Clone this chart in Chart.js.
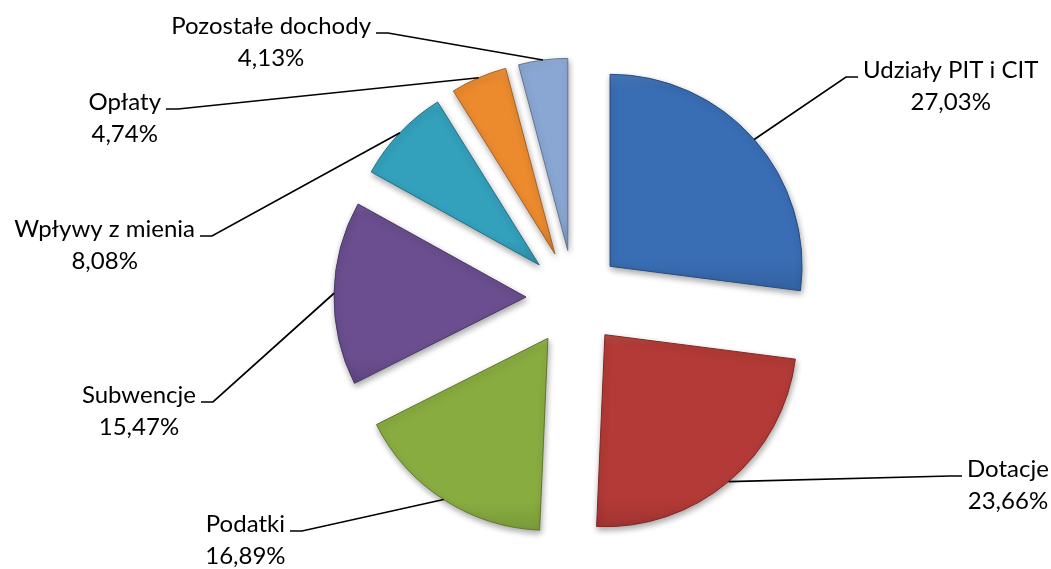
<!DOCTYPE html>
<html>
<head>
<meta charset="utf-8">
<script src="https://cdn.jsdelivr.net/npm/chart.js@4.4.1/dist/chart.umd.min.js"></script>
<style>
  html, body { margin: 0; padding: 0; background: #ffffff; }
  canvas { display: block; }
</style>
</head>
<body>
<canvas id="c" width="1051" height="569"></canvas>
<script>
// ---- data ----
const categories = ['Udziały PIT i CIT', 'Dotacje', 'Podatki', 'Subwencje', 'Wpływy z mienia', 'Opłaty', 'Pozostałe dochody'];
const shares = [27.03, 23.66, 16.89, 15.47, 8.08, 4.74, 4.13];
const sliceColors = ['#396db4', '#b33a36', '#88ac40', '#6a4e8f', '#33a0bc', '#ec8a2e', '#8aa7d4'];

// ---- layout / style ----
const PIE_RADIUS = 192;
const EXPLODE = 48;
const FONT_SIZE = 24;
const FONT_FAMILY = 'Lato, "Noto Sans", sans-serif';
const LINE_GAP = 32;
const TICK = 12;
const TEXT_GAP = 5;
// label elbow points, relative to the pie centre
const labelElbows = [[272, -221], [376, 178], [-272, 233], [-361, 104], [-362, -62], [-396, -189], [-186, -265]];

function fmtPct(v) { return v.toFixed(2).replace('.', ',') + '%'; }

function shade(hex, amt) {
  const n = parseInt(hex.slice(1), 16);
  let r = n >> 16, g = (n >> 8) & 255, b = n & 255;
  const t = amt < 0 ? 0 : 255, p = Math.abs(amt);
  r = Math.round(r + (t - r) * p); g = Math.round(g + (t - g) * p); b = Math.round(b + (t - b) * p);
  return 'rgb(' + r + ',' + g + ',' + b + ')';
}

function sliceGeom(chart, i) {
  const a = chart.chartArea;
  const cx = (a.left + a.right) / 2, cy = (a.top + a.bottom) / 2;
  const total = shares.reduce((s, v) => s + v, 0);
  let cum = 0;
  for (let k = 0; k < i; k++) cum += shares[k];
  const start = -Math.PI / 2 + 2 * Math.PI * cum / total;
  const end = start + 2 * Math.PI * shares[i] / total;
  const mid = (start + end) / 2;
  const vx = cx + Math.cos(mid) * EXPLODE, vy = cy + Math.sin(mid) * EXPLODE;
  let minY = vy, maxY = vy;
  for (let s = 0; s <= 40; s++) {
    const t = start + (end - start) * s / 40;
    const y = vy + Math.sin(t) * PIE_RADIUS;
    minY = Math.min(minY, y); maxY = Math.max(maxY, y);
  }
  return { cx, cy, start, end, mid, vx, vy, minY, maxY };
}

const explodeAndLabels = {
  id: 'explodeAndLabels',
  beforeDatasetsDraw(chart) {
    const a = chart.chartArea;
    const cx = (a.left + a.right) / 2, cy = (a.top + a.bottom) / 2;
    chart.getDatasetMeta(0).data.forEach(el => {
      const mid = (el.startAngle + el.endAngle) / 2;
      el.x = cx + Math.cos(mid) * EXPLODE;
      el.y = cy + Math.sin(mid) * EXPLODE;
    });
    const ctx = chart.ctx;
    ctx.save();
    ctx.shadowColor = 'rgba(0,0,0,0.35)';
    ctx.shadowBlur = 6;
    ctx.shadowOffsetX = 1;
    ctx.shadowOffsetY = 3;
  },
  afterDatasetsDraw(chart) {
    const ctx = chart.ctx;
    ctx.restore();
    const a = chart.chartArea;
    const cx = (a.left + a.right) / 2, cy = (a.top + a.bottom) / 2;
    ctx.save();
    ctx.font = FONT_SIZE + 'px ' + FONT_FAMILY;
    ctx.fillStyle = '#000';
    ctx.strokeStyle = '#000';
    ctx.lineWidth = 1.7;
    ctx.textBaseline = 'alphabetic';
    chart.getDatasetMeta(0).data.forEach((el, i) => {
      const mid = (el.startAngle + el.endAngle) / 2;
      const px = el.x + Math.cos(mid) * el.outerRadius;
      const py = el.y + Math.sin(mid) * el.outerRadius;
      const ex = cx + labelElbows[i][0], ey = cy + labelElbows[i][1];
      const right = labelElbows[i][0] > 0;
      const tx = right ? ex + TICK : ex - TICK;
      ctx.beginPath();
      ctx.moveTo(px, py);
      ctx.lineTo(ex, ey);
      ctx.lineTo(tx, ey);
      ctx.stroke();
      const name = categories[i];
      const pct = fmtPct(shares[i]);
      const w = ctx.measureText(name).width;
      const left = right ? tx + TEXT_GAP : tx - TEXT_GAP - w;
      const centre = left + w / 2;
      ctx.textAlign = 'left';
      ctx.fillText(name, left, ey + 1);
      ctx.textAlign = 'center';
      ctx.fillText(pct, centre, ey + 1 + LINE_GAP);
    });
    ctx.restore();
  }
};

new Chart(document.getElementById('c'), {
  type: 'pie',
  data: {
    labels: categories,
    datasets: [{
      data: shares,
      clip: false,
      borderWidth: 1,
      borderColor: (c) => c.type === 'data' ? shade(sliceColors[c.dataIndex], -0.3) : '#000',
      backgroundColor: (c) => {
        if (c.type !== 'data' || !c.chart.chartArea) return sliceColors[c.dataIndex || 0];
        const g = sliceGeom(c.chart, c.dataIndex);
        const base = sliceColors[c.dataIndex];
        const grad = c.chart.ctx.createLinearGradient(0, g.minY, 0, g.maxY);
        grad.addColorStop(0, shade(base, 0.08));
        grad.addColorStop(0.06, base);
        grad.addColorStop(0.85, base);
        grad.addColorStop(1, shade(base, -0.1));
        return grad;
      }
    }]
  },
  options: {
    responsive: false,
    animation: false,
    events: [],
    radius: PIE_RADIUS,
    layout: { padding: { left: 97, right: 0, top: 27, bottom: 0 } },
    plugins: { legend: { display: false }, tooltip: { enabled: false } }
  },
  plugins: [explodeAndLabels]
});
</script>
</body>
</html>
